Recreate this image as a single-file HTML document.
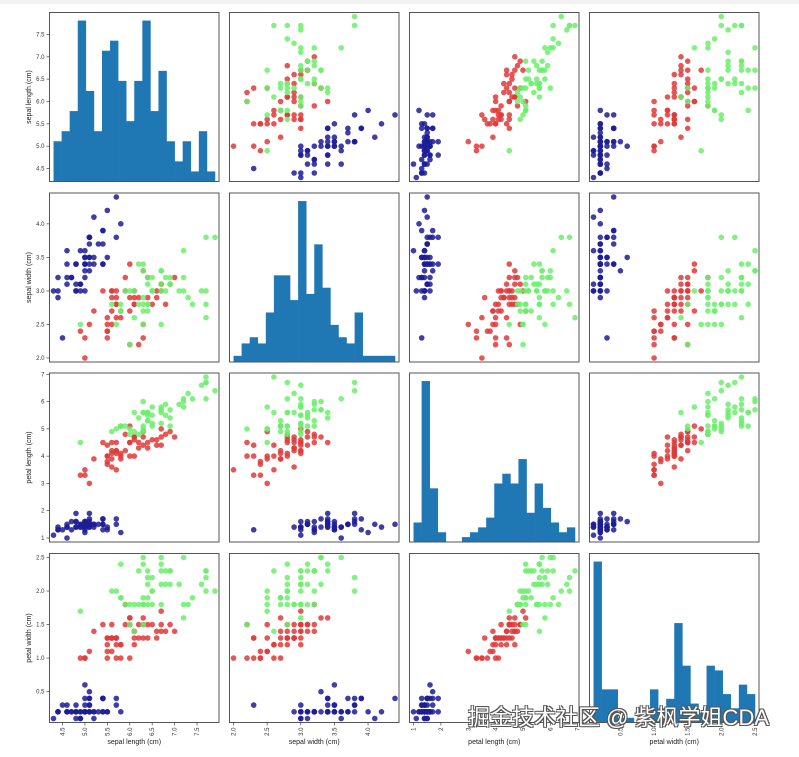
<!DOCTYPE html>
<html><head><meta charset="utf-8"><style>
html,body{margin:0;padding:0;background:#fff;width:799px;height:757px;overflow:hidden}
#wm{position:absolute;left:468px;top:700px;font:22px "Liberation Sans","Noto Sans CJK SC",sans-serif;color:#fff;text-shadow:-1px -1px 0 #555,1px -1px 0 #555,-1px 1px 0 #555,1px 1px 0 #555;white-space:nowrap;letter-spacing:0px}
</style></head><body>
<div style="position:absolute;left:0;top:0;width:799px;height:4px;background:#f2f2f2"></div>
<svg id="s" width="799" height="757" style="position:absolute;left:0;top:0" xmlns="http://www.w3.org/2000/svg" font-family="Liberation Sans, sans-serif"></svg>
<div id="wm">掘金技术社区 @ 紫枫学姐CDA</div>
<script>
var D=[
[5.1,3.5,1.4,0.2],[4.9,3.0,1.4,0.2],[4.7,3.2,1.3,0.2],[4.6,3.1,1.5,0.2],[5.0,3.6,1.4,0.2],[5.4,3.9,1.7,0.4],[4.6,3.4,1.4,0.3],[5.0,3.4,1.5,0.2],[4.4,2.9,1.4,0.2],[4.9,3.1,1.5,0.1],
[5.4,3.7,1.5,0.2],[4.8,3.4,1.6,0.2],[4.8,3.0,1.4,0.1],[4.3,3.0,1.1,0.1],[5.8,4.0,1.2,0.2],[5.7,4.4,1.5,0.4],[5.4,3.9,1.3,0.4],[5.1,3.5,1.4,0.3],[5.7,3.8,1.7,0.3],[5.1,3.8,1.5,0.3],
[5.4,3.4,1.7,0.2],[5.1,3.7,1.5,0.4],[4.6,3.6,1.0,0.2],[5.1,3.3,1.7,0.5],[4.8,3.4,1.9,0.2],[5.0,3.0,1.6,0.2],[5.0,3.4,1.6,0.4],[5.2,3.5,1.5,0.2],[5.2,3.4,1.4,0.2],[4.7,3.2,1.6,0.2],
[4.8,3.1,1.6,0.2],[5.4,3.4,1.5,0.4],[5.2,4.1,1.5,0.1],[5.5,4.2,1.4,0.2],[4.9,3.1,1.5,0.2],[5.0,3.2,1.2,0.2],[5.5,3.5,1.3,0.2],[4.9,3.6,1.4,0.1],[4.4,3.0,1.3,0.2],[5.1,3.4,1.5,0.2],
[5.0,3.5,1.3,0.3],[4.5,2.3,1.3,0.3],[4.4,3.2,1.3,0.2],[5.0,3.5,1.6,0.6],[5.1,3.8,1.9,0.4],[4.8,3.0,1.4,0.3],[5.1,3.8,1.6,0.2],[4.6,3.2,1.4,0.2],[5.3,3.7,1.5,0.2],[5.0,3.3,1.4,0.2],
[7.0,3.2,4.7,1.4],[6.4,3.2,4.5,1.5],[6.9,3.1,4.9,1.5],[5.5,2.3,4.0,1.3],[6.5,2.8,4.6,1.5],[5.7,2.8,4.5,1.3],[6.3,3.3,4.7,1.6],[4.9,2.4,3.3,1.0],[6.6,2.9,4.6,1.3],[5.2,2.7,3.9,1.4],
[5.0,2.0,3.5,1.0],[5.9,3.0,4.2,1.5],[6.0,2.2,4.0,1.0],[6.1,2.9,4.7,1.4],[5.6,2.9,3.6,1.3],[6.7,3.1,4.4,1.4],[5.6,3.0,4.5,1.5],[5.8,2.7,4.1,1.0],[6.2,2.2,4.5,1.5],[5.6,2.5,3.9,1.1],
[5.9,3.2,4.8,1.8],[6.1,2.8,4.0,1.3],[6.3,2.5,4.9,1.5],[6.1,2.8,4.7,1.2],[6.4,2.9,4.3,1.3],[6.6,3.0,4.4,1.4],[6.8,2.8,4.8,1.4],[6.7,3.0,5.0,1.7],[6.0,2.9,4.5,1.5],[5.7,2.6,3.5,1.0],
[5.5,2.4,3.8,1.1],[5.5,2.4,3.7,1.0],[5.8,2.7,3.9,1.2],[6.0,2.7,5.1,1.6],[5.4,3.0,4.5,1.5],[6.0,3.4,4.5,1.6],[6.7,3.1,4.7,1.5],[6.3,2.3,4.4,1.3],[5.6,3.0,4.1,1.3],[5.5,2.5,4.0,1.3],
[5.5,2.6,4.4,1.2],[6.1,3.0,4.6,1.4],[5.8,2.6,4.0,1.2],[5.0,2.3,3.3,1.0],[5.6,2.7,4.2,1.3],[5.7,3.0,4.2,1.2],[5.7,2.9,4.2,1.3],[6.2,2.9,4.3,1.3],[5.1,2.5,3.0,1.1],[5.7,2.8,4.1,1.3],
[6.3,3.3,6.0,2.5],[5.8,2.7,5.1,1.9],[7.1,3.0,5.9,2.1],[6.3,2.9,5.6,1.8],[6.5,3.0,5.8,2.2],[7.6,3.0,6.6,2.1],[4.9,2.5,4.5,1.7],[7.3,2.9,6.3,1.8],[6.7,2.5,5.8,1.8],[7.2,3.6,6.1,2.5],
[6.5,3.2,5.1,2.0],[6.4,2.7,5.3,1.9],[6.8,3.0,5.5,2.1],[5.7,2.5,5.0,2.0],[5.8,2.8,5.1,2.4],[6.4,3.2,5.3,2.3],[6.5,3.0,5.5,1.8],[7.7,3.8,6.7,2.2],[7.7,2.6,6.9,2.3],[6.0,2.2,5.0,1.5],
[6.9,3.2,5.7,2.3],[5.6,2.8,4.9,2.0],[7.7,2.8,6.7,2.0],[6.3,2.7,4.9,1.8],[6.7,3.3,5.7,2.1],[7.2,3.2,6.0,1.8],[6.2,2.8,4.8,1.8],[6.1,3.0,4.9,1.8],[6.4,2.8,5.6,2.1],[7.2,3.0,5.8,1.6],
[7.4,2.8,6.1,1.9],[7.9,3.8,6.4,2.0],[6.4,2.8,5.6,2.2],[6.3,2.8,5.1,1.5],[6.1,2.6,5.6,1.4],[7.7,3.0,6.1,2.3],[6.3,3.4,5.6,2.4],[6.4,3.1,5.5,1.8],[6.0,3.0,4.8,1.8],[6.9,3.1,5.4,2.1],
[6.7,3.1,5.6,2.4],[6.9,3.1,5.1,2.3],[5.8,2.7,5.1,1.9],[6.8,3.2,5.9,2.3],[6.7,3.3,5.7,2.5],[6.7,3.0,5.2,2.3],[6.3,2.5,5.0,1.9],[6.5,3.0,5.2,2.0],[6.2,3.4,5.4,2.3],[5.9,3.0,5.1,1.8]];
var names=["sepal length (cm)","sepal width (cm)","petal length (cm)","petal width (cm)"];
var ticks=[["4.5","5.0","5.5","6.0","6.5","7.0","7.5"],["2.0","2.5","3.0","3.5","4.0"],["1","2","3","4","5","6","7"],["0.5","1.0","1.5","2.0","2.5"]];
var cols=["#1c1c96","#e03a3a","#6cee6c"];
var X0=[49.5,229.5,409.5,589.5],Y0=[12.5,193,373,553.5],W=169.5,H=169;
var mn=[],mx=[];
for(var k=0;k<4;k++){var a=D.map(r=>r[k]);var lo=Math.min(...a),hi=Math.max(...a),p=(hi-lo)*0.025;mn.push(lo-p);mx.push(hi+p);}
var s="";
function sx(k,v,c){return X0[c]+(v-mn[k])/(mx[k]-mn[k])*W;}
function sy(k,v,r){return Y0[r]+H-(v-mn[k])/(mx[k]-mn[k])*H;}
for(var r=0;r<4;r++)for(var c=0;c<4;c++){
 if(r==c){
  var a=D.map(q=>q[c]),lo=Math.min(...a),hi=Math.max(...a),n=20,bw=(hi-lo)/n,cnt=new Array(n).fill(0);
  a.forEach(v=>{var i=Math.floor((v-lo)/bw+1e-9);if(i>=n)i=n-1;cnt[i]++;});
  var m=Math.max(...cnt)*1.05;
  for(var i=0;i<n;i++){if(!cnt[i])continue;var x1=sx(c,lo+i*bw,c),x2=sx(c,lo+(i+1)*bw,c),h=cnt[i]/m*H;
   s+='<rect x="'+x1.toFixed(2)+'" y="'+(Y0[r]+H-h).toFixed(2)+'" width="'+(x2-x1+0.3).toFixed(2)+'" height="'+h.toFixed(2)+'" fill="#1f77b4"/>';}
 } else {
  for(var i=0;i<150;i++){var g=Math.floor(i/50);
   s+='<circle cx="'+sx(c,D[i][c],c).toFixed(1)+'" cy="'+sy(r,D[i][r],r).toFixed(1)+'" r="2.8" fill="'+cols[g]+'" fill-opacity="0.85"/>';}
 }
 s+='<rect x="'+X0[c]+'" y="'+Y0[r]+'" width="'+W+'" height="'+H+'" fill="none" stroke="#555" stroke-width="1"/>';
}
// y ticks left column
for(var r=0;r<4;r++){ticks[r].forEach(t=>{var y=sy(r,parseFloat(t),r);
 s+='<line x1="'+(X0[0]-3)+'" x2="'+X0[0]+'" y1="'+y+'" y2="'+y+'" stroke="#444" stroke-width="0.7"/>';
 s+='<text x="'+(X0[0]-5)+'" y="'+(y+2)+'" font-size="6" fill="#333" text-anchor="end">'+t+'</text>';});
 var cy=Y0[r]+H/2;
 s+='<text transform="translate(31,'+cy+') rotate(-90)" font-size="7" fill="#222" text-anchor="middle">'+names[r]+'</text>';}
// x ticks bottom row
var yb=Y0[3]+H;
for(var c=0;c<4;c++){ticks[c].forEach(t=>{var x=sx(c,parseFloat(t),c);
 s+='<line x1="'+x+'" x2="'+x+'" y1="'+yb+'" y2="'+(yb+3)+'" stroke="#444" stroke-width="0.7"/>';
 s+='<text transform="translate('+(x+2)+','+(yb+5)+') rotate(-90)" font-size="6" fill="#333" text-anchor="end">'+t+'</text>';});
 s+='<text x="'+(X0[c]+W/2)+'" y="744" font-size="7" fill="#222" text-anchor="middle">'+names[c]+'</text>';}
document.getElementById("s").innerHTML=s;
</script>
</body></html>
